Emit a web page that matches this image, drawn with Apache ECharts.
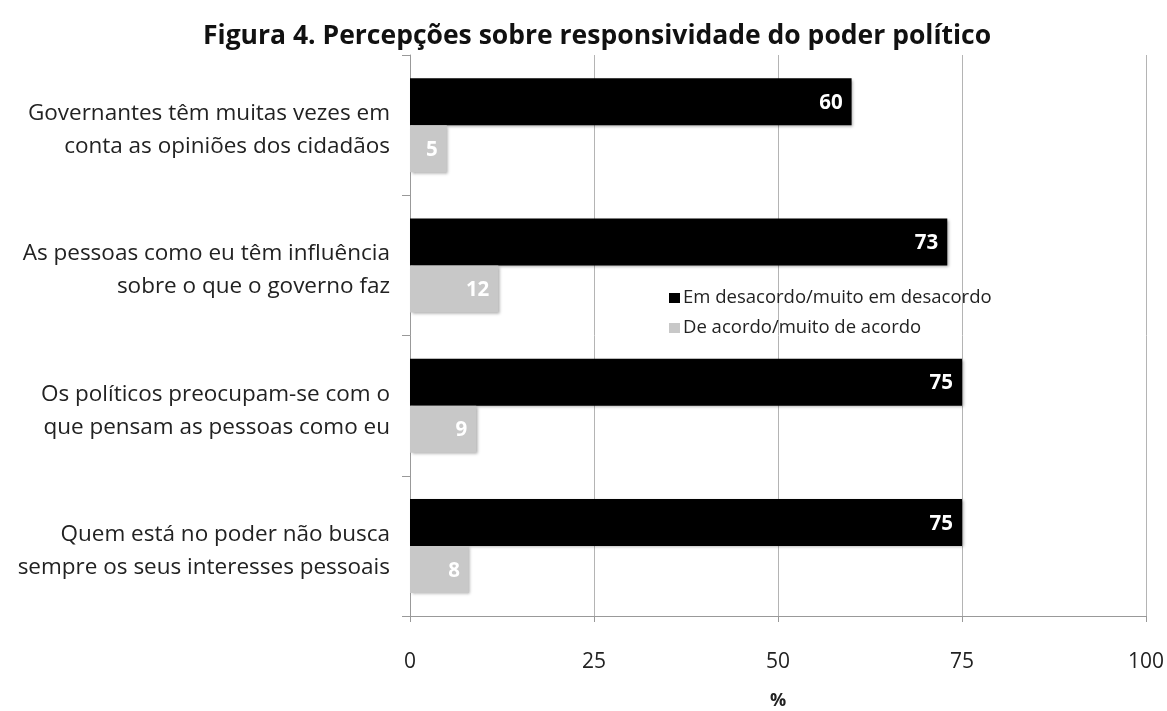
<!DOCTYPE html>
<html>
<head>
<meta charset="utf-8">
<script src="https://cdn.jsdelivr.net/npm/echarts@6/dist/echarts.min.js"></script>
<style>
  html, body { margin: 0; padding: 0; background: #fff; }
  #chart { width: 1167px; height: 711px; }
</style>
</head>
<body>
<div id="chart"></div>
<script>
// Survey statements (top to bottom) and percentage shares per answer group
const categories = [
  'Governantes têm muitas vezes em\nconta as opiniões dos cidadãos',
  'As pessoas como eu têm influência\nsobre o que o governo faz',
  'Os políticos preocupam-se com o\nque pensam as pessoas como eu',
  'Quem está no poder não busca\nsempre os seus interesses pessoais'
];
const disagree = [60, 73, 75, 75];
const agree = [5, 12, 9, 8];
const seriesNames = ['Em desacordo/muito em desacordo', 'De acordo/muito de acordo'];
const xTicks = [0, 25, 50, 75, 100];

const FONT = '"Open Sans", "Noto Sans", sans-serif';

const chart = echarts.init(document.getElementById('chart'));

const barShadow = {
  shadowBlur: 3,
  shadowColor: 'rgba(0,0,0,0.35)',
  shadowOffsetX: 1.5,
  shadowOffsetY: 1.5
};

const valueLabel = {
  show: true,
  position: 'insideRight',
  distance: 9,
  offset: [0, 1.5],
  color: '#fff',
  fontFamily: FONT,
  fontWeight: 'bold',
  fontSize: 20.5
};

chart.setOption({
  animation: false,
  backgroundColor: '#fff',
  title: {
    text: 'Figura 4. Percepções sobre responsividade do poder político',
    left: 198,
    top: 18,
    textStyle: { fontFamily: FONT, fontWeight: 'bold', fontSize: 26.5, color: '#111' }
  },
  legend: {
    orient: 'vertical',
    left: 664,
    top: 283,
    itemWidth: 11,
    itemHeight: 10,
    itemGap: 10,
    itemStyle: { borderWidth: 0 },
    icon: 'rect',
    textStyle: { fontFamily: FONT, fontSize: 18.5, lineHeight: 20, color: '#222', padding: [0, 0, 0, -2] },
    data: seriesNames
  },
  grid: { left: 410, right: 21, top: 55, bottom: 95, outerBoundsMode: 'none' },
  xAxis: {
    type: 'value',
    min: xTicks[0],
    max: xTicks[xTicks.length - 1],
    interval: 25,
    name: '%',
    nameLocation: 'middle',
    nameGap: 76,
    nameTextStyle: { fontFamily: FONT, fontWeight: 'bold', fontSize: 18, color: '#222' },
    axisLine: { show: true, lineStyle: { color: '#999' } },
    axisTick: { show: true, length: 6, lineStyle: { color: '#999' } },
    axisLabel: { margin: 36, fontFamily: FONT, fontSize: 21, color: '#222' },
    splitLine: { show: true, lineStyle: { color: '#b4b4b4', width: 1 } }
  },
  yAxis: {
    type: 'category',
    inverse: true,
    data: categories,
    axisLine: { show: true, lineStyle: { color: '#999' } },
    axisTick: { show: true, length: 8, lineStyle: { color: '#999' } },
    axisLabel: {
      margin: 20,
      fontFamily: FONT,
      fontSize: 22.5,
      lineHeight: 33,
      color: '#222',
      align: 'right',
      // a thin spacer line on top nudges the two-line label slightly below the band centre
      formatter: (v) => '{sp| }\n' + v.split('\n').map((s) => '{t|' + s + '}').join('\n'),
      rich: {
        sp: { fontSize: 4, lineHeight: 10 },
        t: { fontFamily: FONT, fontSize: 22.5, lineHeight: 33, color: '#222' }
      }
    }
  },
  series: [
    {
      name: seriesNames[0],
      type: 'bar',
      data: disagree,
      barWidth: 47,
      barGap: '0%',
      itemStyle: Object.assign({ color: '#000' }, barShadow),
      label: valueLabel
    },
    {
      name: seriesNames[1],
      type: 'bar',
      data: agree,
      barWidth: 47,
      itemStyle: Object.assign({ color: '#c8c8c8' }, barShadow),
      label: valueLabel
    }
  ]
});
</script>
</body>
</html>
